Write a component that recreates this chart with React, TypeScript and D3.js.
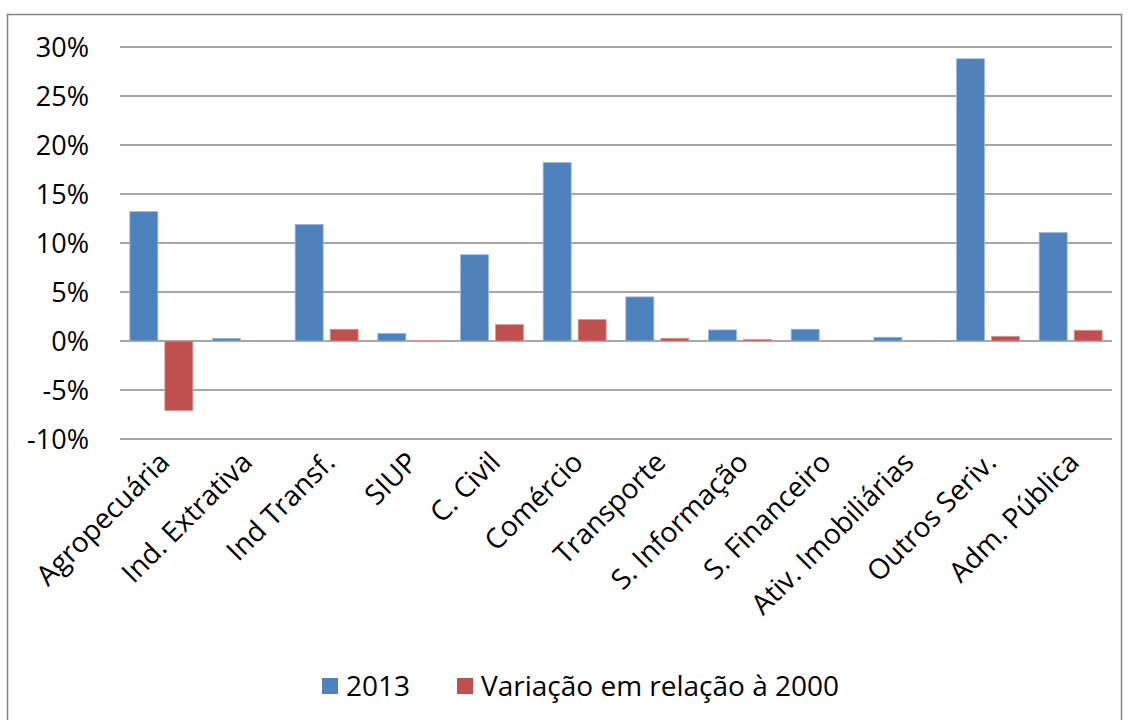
import React, { useEffect, useRef } from 'react';
import * as d3 from 'd3';

const categories = [
  'Agropecuária', 'Ind. Extrativa', 'Ind Transf.', 'SIUP', 'C. Civil', 'Comércio',
  'Transporte', 'S. Informação', 'S. Financeiro', 'Ativ. Imobiliárias', 'Outros Seriv.', 'Adm. Pública',
];
const series = ['2013', 'Variação em relação à 2000'];
const values2013 = [0.132, 0.0027, 0.119, 0.0078, 0.088, 0.182, 0.045, 0.0113, 0.012, 0.0038, 0.288, 0.1107];
const valuesVar = [-0.071, 0, 0.012, 0.0005, 0.0167, 0.022, 0.0028, 0.0017, 0, 0, 0.0048, 0.011];
const yTicks = [-0.1, -0.05, 0, 0.05, 0.1, 0.15, 0.2, 0.25, 0.3];
const colors = ['#4F81BD', '#C0504D'];
const edges = ['#9bb7db', '#dc9a98'];

const W = 1130;
const H = 720;
const FONT = '"Open Sans", Lato, sans-serif';

export default function App() {
  const ref = useRef<SVGSVGElement | null>(null);

  useEffect(() => {
    if (!ref.current) return;
    const svg = d3.select(ref.current);
    svg.selectAll('*').remove();

    // outer chart border
    svg.append('rect')
      .attr('x', 7.5).attr('y', 14.5).attr('width', 1114).attr('height', 720)
      .attr('fill', 'white').attr('stroke', '#868686').attr('stroke-width', 1.5);

    const x0 = d3.scaleBand<string>().domain(categories).range([120, 1112])
      .paddingInner(0.238).paddingOuter(0.119);
    const x1 = d3.scaleBand<string>().domain(series).range([0, x0.bandwidth()]).paddingInner(0.2);
    const y = d3.scaleLinear().domain([-0.1, 0.3]).range([439, 47]);

    // gridlines
    svg.append('g').selectAll('line').data(yTicks).join('line')
      .attr('x1', 120).attr('x2', 1112)
      .attr('y1', d => y(d)).attr('y2', d => y(d))
      .attr('stroke', '#8a8a8a').attr('stroke-width', 1.5);

    // y tick labels (plain hyphen for negatives, like the original)
    svg.append('g').selectAll('text').data(yTicks).join('text')
      .attr('x', 89).attr('y', d => y(d))
      .attr('dy', '0.36em')
      .attr('text-anchor', 'end')
      .style('font-family', FONT).style('font-size', '27px').attr('fill', '#000')
      .text(d => `${Math.round(d * 100)}%`);

    const data = [values2013, valuesVar];
    data.forEach((vals, si) => {
      svg.append('g').selectAll('rect').data(vals).join('rect')
        .attr('x', (_, i) => (x0(categories[i]) ?? 0) + (x1(series[si]) ?? 0))
        .attr('width', x1.bandwidth())
        .attr('y', d => y(Math.max(0, d)))
        .attr('height', d => Math.abs(y(d) - y(0)))
        .attr('fill', colors[si])
        .attr('stroke', edges[si]).attr('stroke-width', 0.8);
    });

    // category labels
    svg.append('g').selectAll('text').data(categories).join('text')
      .attr('transform', d => `translate(${(x0(d) ?? 0) + x0.bandwidth() / 2 + 10},${464}) rotate(-45)`)
      .attr('text-anchor', 'end')
      .style('font-family', FONT).style('font-size', '28px').attr('fill', '#000')
      .text(d => d);

    // legend
    const legend = svg.append('g');
    const lx = [322, 457];
    series.forEach((s, i) => {
      legend.append('rect').attr('x', lx[i]).attr('y', 678).attr('width', 16).attr('height', 16)
        .attr('fill', colors[i]);
      legend.append('text').attr('x', lx[i] + 24).attr('y', 696)
        .style('font-family', FONT).style('font-size', '28px').attr('fill', '#000')
        .text(s);
    });
  }, []);

  return (
    <svg ref={ref} width={W} height={H} style={{ position: 'absolute', left: 0, top: 0, background: 'white' }} />
  );
}
